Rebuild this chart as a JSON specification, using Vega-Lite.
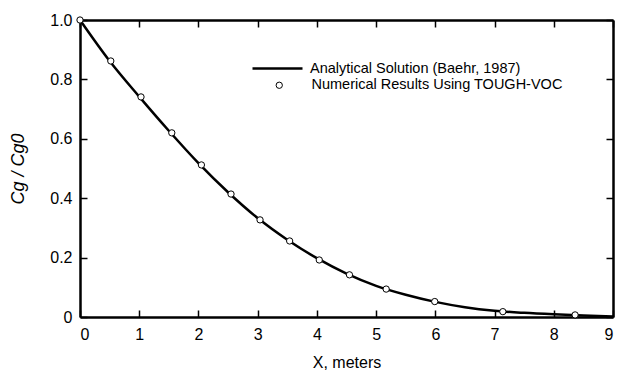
{
  "$schema": "https://vega.github.io/schema/vega-lite/v6.json",
  "width": 533,
  "height": 297,
  "autosize": {"type": "none"},
  "padding": {"left": 80, "top": 20, "right": 10, "bottom": 59},
  "background": "white",
  "config": {
    "view": {"stroke": null},
    "font": "Liberation Sans",
    "axis": {
      "grid": false,
      "domainColor": "black",
      "domainWidth": 2.5,
      "tickColor": "black",
      "tickWidth": 1.5,
      "tickSize": -7,
      "labelColor": "black",
      "labelFont": "Liberation Sans",
      "labelFontSize": 16,
      "titleFont": "Liberation Sans",
      "titleFontSize": 16,
      "titleFontWeight": "normal",
      "titleColor": "black"
    },
    "legend": {
      "labelFontSize": 14.5, "labelFont": "Liberation Sans", "labelColor": "black", "labelLimit": 0, "padding": 0
    }
  },
  "datasets": {
    "line": [
      {"x": 0, "y": 1.0},
      {"x": 0.5, "y": 0.862},
      {"x": 1.0, "y": 0.742},
      {"x": 1.5, "y": 0.627},
      {"x": 2.0, "y": 0.518},
      {"x": 2.5, "y": 0.42},
      {"x": 3.0, "y": 0.333},
      {"x": 3.5, "y": 0.26},
      {"x": 4.0, "y": 0.198},
      {"x": 4.5, "y": 0.146},
      {"x": 5.0, "y": 0.105},
      {"x": 5.5, "y": 0.075},
      {"x": 6.0, "y": 0.051},
      {"x": 6.5, "y": 0.033},
      {"x": 7.0, "y": 0.021},
      {"x": 7.5, "y": 0.014},
      {"x": 8.0, "y": 0.009},
      {"x": 8.5, "y": 0.005},
      {"x": 9.0, "y": 0.002}
    ],
    "pts": [
      {"x": 0, "y": 1.0},
      {"x": 0.52, "y": 0.862},
      {"x": 1.03, "y": 0.741},
      {"x": 1.55, "y": 0.62},
      {"x": 2.05, "y": 0.512},
      {"x": 2.55, "y": 0.414},
      {"x": 3.04, "y": 0.327},
      {"x": 3.54, "y": 0.256},
      {"x": 4.04, "y": 0.192},
      {"x": 4.55, "y": 0.142},
      {"x": 5.17, "y": 0.094},
      {"x": 5.99, "y": 0.052},
      {"x": 7.14, "y": 0.018},
      {"x": 8.36, "y": 0.007}
    ]
  },
  "layer": [
    {
      "data": {"name": "line"},
      "mark": {"type": "line", "strokeWidth": 2.5, "interpolate": "monotone"},
      "encoding": {
        "x": {
          "field": "x", "type": "quantitative",
          "scale": {"domain": [0, 9], "nice": false},
          "axis": {"orient": "bottom", "values": [0,1,2,3,4,5,6,7,8,9], "title": "X, meters", "labelPadding": 16, "titlePadding": 12}
        },
        "y": {
          "field": "y", "type": "quantitative",
          "scale": {"domain": [0, 1], "nice": false},
          "axis": {"orient": "left", "values": [0, 0.2, 0.4, 0.6, 0.8, 1.0],
                   "labelExpr": "datum.value == 0 ? '0' : format(datum.value, '.1f')",
                   "title": "Cg / Cg0", "titleFontStyle": "italic", "titleFontSize": 18, "labelPadding": 15, "titlePadding": 22}
        },
        "stroke": {
          "datum": "Analytical Solution (Baehr, 1987)",
          "scale": {"range": ["black"]},
          "legend": {"title": null, "orient": "none", "legendX": 171, "legendY": 22,
                     "symbolType": "stroke", "symbolSize": 2500, "symbolStrokeWidth": 2.5, "symbolStrokeColor": "black", "labelOffset": 6}
        }
      }
    },
    {
      "data": {"name": "pts"},
      "mark": {"type": "point", "filled": false, "fill": "white", "strokeWidth": 1, "size": 40, "opacity": 1},
      "encoding": {
        "x": {
          "field": "x", "type": "quantitative",
          "axis": {"orient": "top", "values": [0,1,2,3,4,5,6,7,8,9], "labels": false, "title": null}
        },
        "y": {
          "field": "y", "type": "quantitative",
          "axis": {"orient": "right", "values": [0, 0.2, 0.4, 0.6, 0.8, 1.0], "labels": false, "title": null}
        },
        "color": {
          "datum": "Numerical Results Using TOUGH-VOC",
          "scale": {"range": ["black"]},
          "legend": {"title": null, "orient": "none", "legendX": 192, "legendY": 58,
                     "symbolType": "circle", "symbolSize": 40, "symbolStrokeWidth": 1, "symbolFillColor": "white", "symbolOpacity": 1, "labelOffset": 25}
        }
      }
    }
  ],
  "resolve": {"axis": {"x": "independent", "y": "independent"}}
}
